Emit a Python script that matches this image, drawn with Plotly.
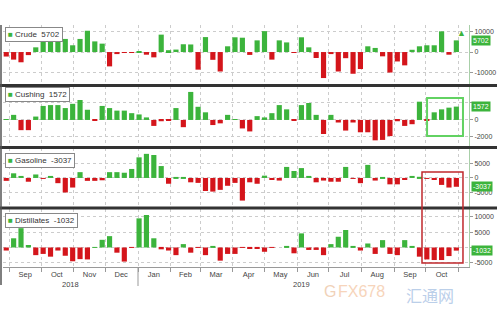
import pandas as pd
import plotly.graph_objects as go
from plotly.subplots import make_subplots

# weekly release dates (Wednesdays)
weeks = pd.date_range("2018-08-29", "2019-10-30", freq="7D")

crude = [-2200, -3700, -5000, -1500, 2300, 6000, 6800, 6800, 6400, 3300,
         6400, 10400, 5200, 4100, -7000, -1000, -400, -200, 100, -1300,
         -2600, 8500, 900, 1200, 3800, 3700, -8600, 7300, -3800, -9500,
         2800, 7200, 7000, -1400, 5700, 10200, -3700, 5700, 4700, -300,
         7200, 2300, -2900, -12700, -1000, -9500, -3000, -10600, -8300, 2800,
         2000, -2100, -10000, -4600, -6500, 1100, 2800, 3300, 3300, 10100,
         -1300, 5702]
cushing = [100, 600, -1200, -1200, 400, 1650, 1750, 1750, 1400, 1900,
           2350, 1200, -50, 1650, 1400, 1100, 1100, 800, 650, 300,
           -700, -150, -100, 1400, -850, 3300, 1550, 900, -600, -400,
           600, 100, -1000, -1350, 450, 300, 800, 1750, 1250, -30,
           1750, 2000, 600, -1650, 600, -300, -1250, -300, -1450, -1450,
           -2400, -2350, -1900, -150, -700, -500, 2150, -50, 900, 1250,
           1450, 1572]
gasoline = [-1000, 1600, 700, -1300, 1200, -200, 700, -1800, -5000, -3300,
            2000, -1000, -1000, -800, 2000, 2000, 1800, 3100, 7100, 8300,
            7900, 4100, -2000, 200, 100, -1500, -1700, -4500, -4700, -4100,
            -2700, -1700, -7800, -1500, -2000, 800, -700, -900, 3800, 2400,
            3400, 700, -1500, -900, -1300, -1300, 3800, -100, -1800, 4500,
            -900, 100, -2200, -2200, -700, 700, 400, -100, -700, -2400,
            -3300, -3037]
distillates = [-1000, 3000, 6300, 800, -2500, -2100, -3000, -1000, -2700, -4500,
               -3800, -3900, 100, 2500, 3700, -1700, -4600, -100, 9500, 10600,
               3000, -600, -1000, -2500, 1100, -1700, -100, -2500, 200, -4300,
               -2100, -2100, -100, -500, -500, -1400, -100, 0, 500, -1900,
               4600, -800, -800, -2500, 1100, 3500, 5700, 500, -1000, 1300,
               -2100, 2400, -2100, -2500, 2400, 200, -3000, -3900, -4100, -4100,
               -2800, -1032]

series_names = ["Crude", "Cushing", "Gasoline", "Distillates"]
series_vals = [crude, cushing, gasoline, distillates]

month_starts = ["2018-09-01", "2018-10-01", "2018-11-01", "2018-12-01", "2019-01-01",
                "2019-02-01", "2019-03-01", "2019-04-01", "2019-05-01", "2019-06-01",
                "2019-07-01", "2019-08-01", "2019-09-01", "2019-10-01", "2019-11-01"]
month_mids = ["2018-09-16", "2018-10-16", "2018-11-16", "2018-12-16", "2019-01-16",
              "2019-02-15", "2019-03-16", "2019-04-16", "2019-05-16", "2019-06-16",
              "2019-07-16", "2019-08-16", "2019-09-16", "2019-10-16"]
month_labels = ["Sep", "Oct", "Nov", "Dec", "Jan", "Feb", "Mar", "Apr", "May", "Jun",
                "Jul", "Aug", "Sep", "Oct"]
year_labels = ["2018", "2019"]
year_pos = ["2018-10-29", "2019-06-05"]

y_ranges = [[-16100, 13200], [-3180, 4000], [-10000, 10340], [-6370, 12580]]
y_ticks = [[-10000, 0, 10000], [-2000, 0, 2000], [-5000, 0, 5000], [-5000, 0, 5000, 10000]]
y_ticktext = [["-10000", "0", "10000"], ["-2000", "0", ""], ["-5000", "0", "5000"],
              ["-5000", "", "5000", "10000"]]
domains = [[0.752, 1.0], [0.496, 0.748], [0.248, 0.492], [0.0, 0.240]]

GREEN = "#3cb43c"
RED = "#d4151b"

fig = make_subplots(rows=4, cols=1, shared_xaxes=True, vertical_spacing=0.01)

bar_w = 4.9 * 86400000
for i, vals in enumerate(series_vals):
    fig.add_trace(go.Bar(x=weeks, y=vals, width=[bar_w] * len(vals),
                         marker=dict(color=[GREEN if v >= 0 else RED for v in vals], line=dict(width=0)),
                         showlegend=False), row=i + 1, col=1)

fig.update_layout(width=500, height=312, margin=dict(l=3, r=31, t=25, b=45),
                  plot_bgcolor="white", paper_bgcolor="white", showlegend=False,
                  font=dict(family="Liberation Sans, Arial, sans-serif", size=7, color="#444"))

xr = ["2018-08-25 22:00", "2019-11-11"]
for i in range(4):
    ax = "xaxis" if i == 0 else f"xaxis{i+1}"
    bottom = (i == 3)
    fig.layout[ax].update(range=xr, tickmode="array", tickvals=month_mids, ticktext=month_labels,
                          ticks="", showgrid=False, zeroline=False,
                          showticklabels=bottom, showline=bottom, linecolor="#999", linewidth=1,
                          tickfont=dict(size=7.5, color="#444"),
                          minor=dict(tickmode="array", tickvals=month_starts,
                                     ticks="outside" if bottom else "", ticklen=4, tickcolor="#999",
                                     showgrid=True, gridcolor="#cccccc", griddash="dot", gridwidth=1))
    ay = "yaxis" if i == 0 else f"yaxis{i+1}"
    fig.layout[ay].update(domain=domains[i], range=y_ranges[i], side="right",
                          tickmode="array", tickvals=y_ticks[i], ticktext=y_ticktext[i],
                          showgrid=True, gridcolor="#cccccc", griddash="dot", gridwidth=1,
                          zeroline=False, showline=True, linecolor="#a8cfa8", linewidth=1,
                          ticks="outside", ticklen=3, tickcolor="#999",
                          tickfont=dict(size=7, color="#444"))

annots = []
legend_tops = [27, 87, 153, 213]
for i, (name, vals) in enumerate(zip(series_names, series_vals)):
    annots.append(dict(xref="paper", yref="paper", x=(5 - 3) / 466, y=(267 - legend_tops[i]) / 242,
                       xanchor="left", yanchor="top", showarrow=False,
                       text=f"<span style='color:{GREEN}'>■</span> {name}  {vals[-1]}",
                       bordercolor="#888", borderwidth=1, borderpad=2, bgcolor="white",
                       font=dict(size=8, color="#333")))
    yref = "y" if i == 0 else f"y{i+1}"
    annots.append(dict(xref="paper", yref=yref, x=1, y=vals[-1], xanchor="left", xshift=2,
                       showarrow=False, text=str(vals[-1]), bgcolor=GREEN, borderpad=1,
                       font=dict(size=7, color="white")))

for lab, pos in zip(year_labels, year_pos):
    annots.append(dict(xref="x4", yref="paper", x=pos, y=(267 - 277.5) / 242, yanchor="top",
                       text=lab, showarrow=False, font=dict(size=7.5, color="#444")))

# last-value marker
annots.append(dict(xref="x", yref="y", x="2019-11-04", y=9300, text="▲", showarrow=False,
                   font=dict(size=9, color=GREEN)))

# watermark (kept just below the month labels)
wm_y = (267 - 281) / 242
for wtxt, wx, wcol, wfam in [("G", 338, "#e8b48a", "Liberation Sans"),
                             ("FX678", 387, "#f2b98e", "Liberation Sans"),
                             ("汇通网", 456, "#8fb0dc", "Noto Sans CJK SC")]:
    annots.append(dict(xref="paper", yref="paper", x=(wx - 3) / 466, y=wm_y, yanchor="top",
                       text=wtxt, showarrow=False,
                       font=dict(size=16, color=wcol, family=wfam), opacity=0.6))
fig.update_layout(annotations=annots)

shapes = []
for ysep in [85.5, 147.5, 208]:
    yp = (267 - ysep) / 242
    shapes.append(dict(type="line", xref="paper", yref="paper", x0=-3 / 466, x1=(497 - 3) / 466,
                       y0=yp, y1=yp, line=dict(color="#333", width=3)))
# left border
shapes.append(dict(type="line", xref="paper", yref="paper", x0=-2 / 466, x1=-2 / 466,
                   y0=1.0, y1=(267 - 285) / 242, line=dict(color="#555", width=1.5)))
# year boundary tick
shapes.append(dict(type="line", xref="x4", yref="paper", x0="2019-01-01", x1="2019-01-01",
                   y0=0, y1=(267 - 286) / 242, line=dict(color="#999", width=1)))
# highlight boxes
shapes.append(dict(type="rect", xref="x2", yref="y2", x0="2019-10-02 05:00", x1="2019-11-05 07:00",
                   y0=-1880, y1=2590, line=dict(color="#62d262", width=2)))
shapes.append(dict(type="rect", xref="x3", yref="paper", x0="2019-09-27 10:00", x1="2019-11-05 07:00",
                   y0=(267 - 263) / 242, y1=(267 - 172) / 242, line=dict(color="#c0282d", width=1.5)))
fig.update_layout(shapes=shapes)

fig.write_html("out.html")
